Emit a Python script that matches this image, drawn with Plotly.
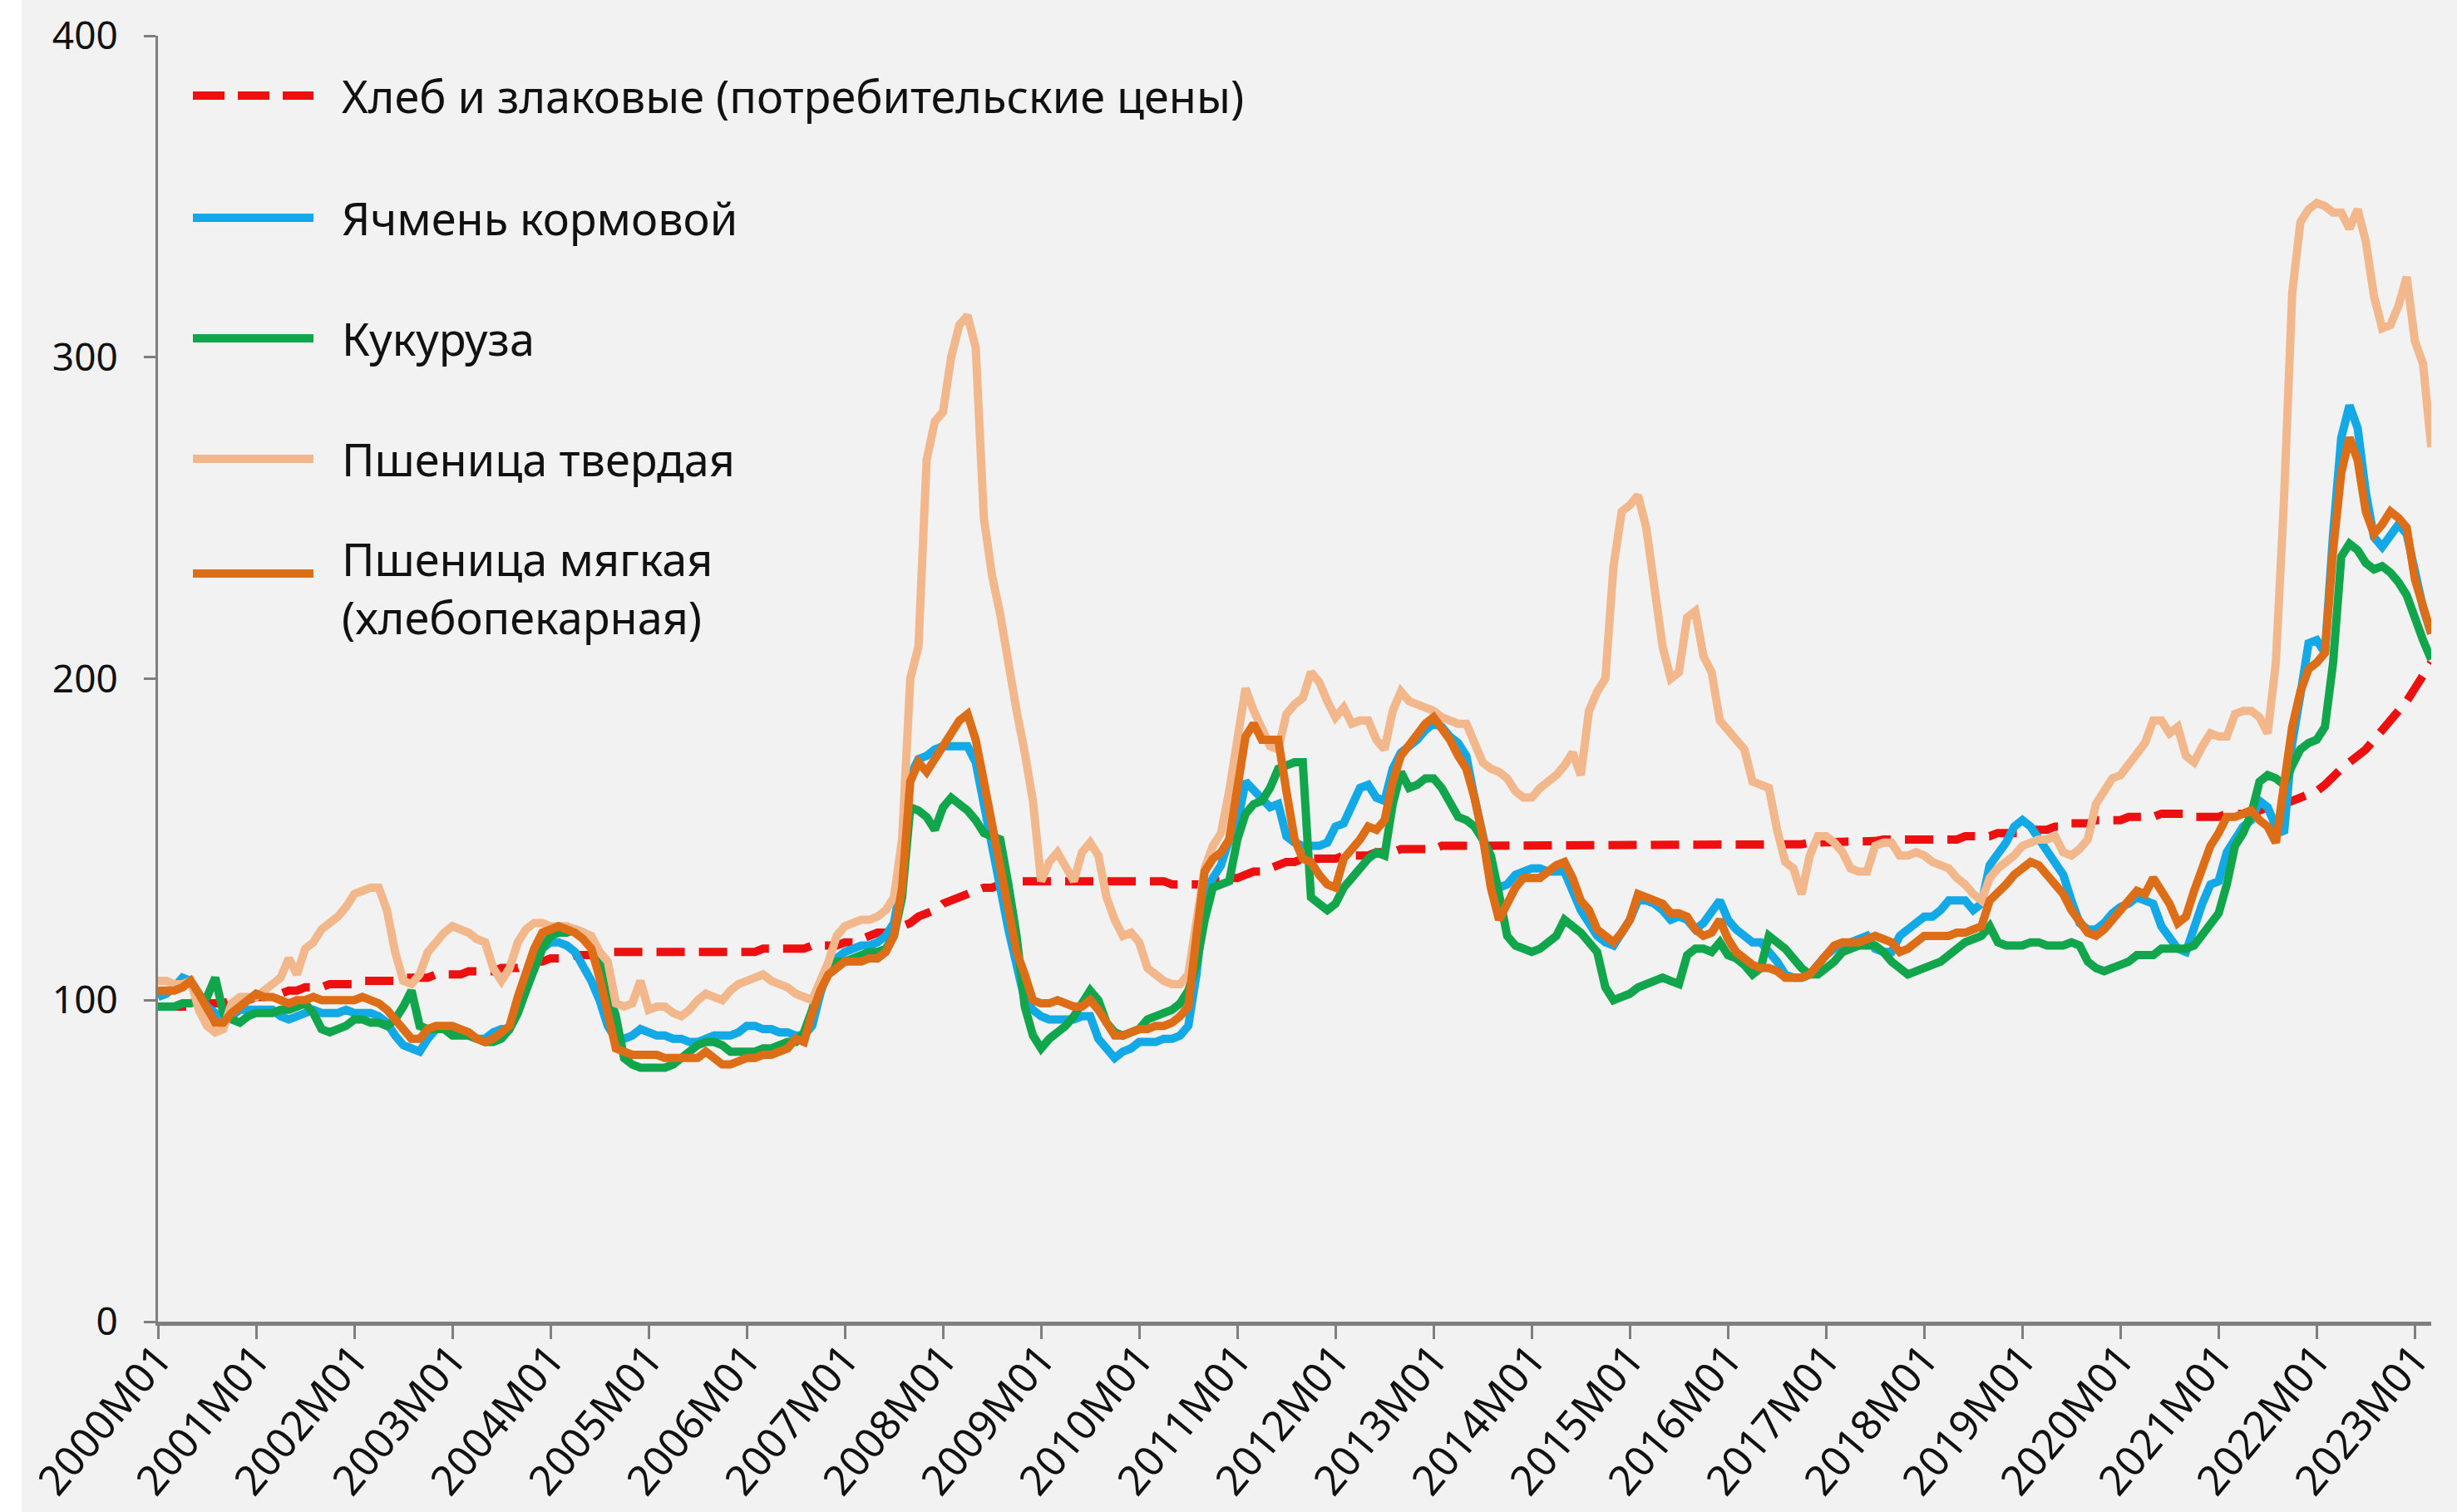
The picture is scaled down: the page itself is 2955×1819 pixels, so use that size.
import plotly.graph_objects as go

# ---------------- data ----------------
years = list(range(2000, 2024))
months = [f"{y}M{m:02d}" for y in range(2000, 2023) for m in range(1, 13)] + ["2023M01", "2023M02", "2023M03"]
tick_labels = [f"{y}M01" for y in years]

bread_cpi = [
    98, 98, 98, 98, 98, 98, 99, 99, 99, 100, 100, 100,
    101, 101, 102, 102, 103, 103, 104, 104, 104, 105, 105, 105,
    105, 106, 106, 106, 106, 106, 107, 107, 107, 107, 108, 108,
    108, 108, 109, 109, 109, 109, 110, 110, 110, 111, 112, 112,
    113, 113, 113, 114, 114, 114, 114, 115, 115, 115, 115, 115,
    115, 115, 115, 115, 115, 115, 115, 115, 115, 115, 115, 115,
    115, 115, 116, 116, 116, 116, 116, 116, 117, 117, 117, 117,
    118, 118, 119, 120, 121, 121, 122, 123, 124, 126, 127, 128,
    130, 131, 132, 133, 134, 135, 135, 136, 136, 137, 137, 137,
    137, 137, 137, 137, 137, 137, 137, 137, 137, 137, 137, 137,
    137, 137, 137, 137, 136, 136, 136, 136, 136, 137, 137, 138,
    138, 139, 140, 140, 141, 142, 143, 143, 144, 144, 144, 144,
    144, 145, 145, 145, 145, 146, 146, 146, 147, 147, 147, 147,
    147, 148, 148, 148, 148, 148, 148, 148, 148, 148, 148, 148,
    148, 148, 148, 148, 148, 148, 148, 148, 148, 148, 148, 148,
    148, 148, 148, 148, 148, 148, 148, 148, 148, 148, 148, 148,
    148, 148, 148, 148, 148, 148, 148.5, 148.5, 148.5, 148.5, 149, 149,
    149, 149, 149, 149, 149, 149.5, 149.5, 150, 150, 150, 150, 150,
    150, 150, 150, 150, 150, 151, 151, 151, 151, 152, 152, 152,
    152, 153, 153, 153, 154, 154, 155, 155, 155, 156, 156, 156,
    156, 157, 157, 157, 157, 158, 158, 158, 158, 157, 157, 157,
    157, 158, 158, 158, 159, 159, 160, 160, 161, 162, 163, 164,
    165, 167, 170, 172, 174, 176, 178, 181, 184, 187, 190, 193,
    197, 201, 205,
]

barley = [
    101, 102, 104, 107, 106, 102, 98, 96, 93, 95, 97, 97,
    97, 97, 97, 95, 94, 95, 96, 97, 96, 96, 96, 97,
    96, 96, 96, 95, 93, 89, 86, 85, 84, 88, 91, 91,
    91, 90, 89, 88, 88, 90, 91, 91, 96, 104, 110, 116,
    118, 118, 117, 115, 111, 106, 100, 92, 88, 88, 89, 91,
    90, 89, 89, 88, 88, 87, 87, 88, 89, 89, 89, 90,
    92, 92, 91, 91, 90, 90, 89, 89, 92, 102, 110, 113,
    115, 116, 117, 117, 118, 120, 124, 138, 170, 175, 176, 178,
    179, 179, 179, 179, 174, 160, 146, 135, 122, 110, 100, 97,
    95, 94, 94, 94, 94, 95, 95, 88, 85, 82, 84, 85,
    87, 87, 87, 88, 88, 89, 92, 108, 132, 138, 142, 150,
    155, 168, 165, 162, 160, 161, 151, 149, 148, 148, 148, 149,
    154, 155, 160, 166, 167, 163, 162, 172, 177, 179, 181, 184,
    186, 185, 182, 180, 176, 163, 150, 140, 135, 136, 139, 140,
    141, 141, 140, 140, 140, 134, 128, 124, 120, 118, 117, 121,
    125, 131, 131, 130, 128, 125, 126, 125, 122, 124, 127, 131,
    125, 122, 120, 118, 118, 115, 112, 108, 107, 107, 108, 111,
    114, 116, 117, 118, 119, 120, 116, 115, 115, 120, 122, 124,
    126, 126, 128, 131, 131, 131, 128, 130, 142, 145, 149, 154,
    156, 154, 150, 146, 143, 139, 131, 124, 122, 122, 124, 127,
    129, 130, 132, 131, 130, 123, 119, 116, 115, 123, 130, 136,
    137, 146, 150, 154, 156, 162, 160, 154, 152, 180, 195, 211,
    212, 208, 245, 275, 285, 278, 258, 244, 241, 245, 248, 245,
    232, 222, 214,
]

corn = [
    98, 98, 98, 99, 99, 100, 101, 107, 96, 94, 93, 95,
    96, 96, 96, 97, 97, 98, 99, 96, 91, 90, 91, 92,
    94, 94, 93, 93, 92, 94, 98, 103, 92, 91, 91, 91,
    89, 89, 89, 88, 87, 87, 88, 91, 96, 103, 110, 116,
    120, 121, 121, 122, 121, 118, 112, 104, 95, 82, 80, 79,
    79, 79, 79, 80, 82, 84, 86, 87, 87, 86, 84, 84,
    84, 84, 85, 85, 86, 87, 87, 90, 97, 105, 110, 112,
    112, 113, 114, 115, 115, 116, 120, 132, 160, 159, 157, 153,
    160, 163, 161, 159, 156, 152, 151, 150, 136, 120, 98, 89,
    85, 88, 90, 92, 95, 99, 103, 100, 93, 90, 89, 90,
    91, 94, 95, 96, 97, 99, 103, 111, 125, 135, 136, 137,
    150, 158, 161, 162, 166, 172, 173, 174, 174, 132, 130, 128,
    130, 135, 138, 141, 144, 146, 145, 161, 171, 166, 167, 169,
    169, 166, 161, 157, 156, 154, 150, 145, 133, 120, 117, 116,
    115, 116, 118, 120, 125, 123, 121, 118, 115, 104, 100, 101,
    102, 104, 105, 106, 107, 106, 105, 114, 116, 116, 115, 118,
    114, 113, 111, 108, 110, 120, 118, 116, 113, 110, 108, 108,
    110, 112, 115, 116, 117, 117, 117, 115, 112, 110, 108, 109,
    110, 111, 112, 114, 116, 118, 119, 120, 123, 118, 117, 117,
    117, 118, 118, 117, 117, 117, 118, 117, 112, 110, 109, 110,
    111, 112, 114, 114, 114, 116, 116, 116, 116, 117, 120, 124,
    127, 136, 148, 152, 158, 168, 170, 169, 167, 173, 178, 180,
    181, 185, 205, 238, 242, 240, 236, 234, 235, 233, 230, 226,
    218, 212, 206,
]

durum_wheat = [
    106, 106, 105, 105, 106, 97, 92, 90, 91, 99, 101, 101,
    101, 103, 105, 107, 113, 108, 116, 118, 122, 124, 126, 129,
    133, 134, 135, 135, 128, 115, 106, 105, 108, 115, 118, 121,
    123, 122, 121, 119, 118, 110, 106, 110, 118, 122, 124, 124,
    123, 123, 123, 122, 121, 120, 115, 112, 99, 98, 99, 106,
    97, 98, 98, 96, 95, 97, 100, 102, 101, 100, 103, 105,
    106, 107, 108, 106, 105, 104, 102, 101, 100, 106, 112, 120,
    123, 124, 125, 125, 126, 128, 132, 150, 200, 210, 268, 280,
    283, 300, 310, 313, 303, 250, 232, 220, 204, 190, 177, 162,
    137, 143, 146, 142, 137, 146, 149, 145, 132, 125, 120, 121,
    118, 110, 108, 106, 105, 105, 108, 123, 141, 148, 152, 165,
    180, 197, 190, 184, 179, 178, 189, 192, 194, 202, 199, 193,
    188, 191, 186, 187, 187, 181, 178, 190, 196, 193, 192, 191,
    190, 188, 187, 186, 186, 180, 174, 172, 171, 169, 165, 163,
    163, 166, 168, 170, 173, 177, 170, 190, 196, 200, 235, 252,
    254, 257, 247, 230, 210, 200, 202, 219, 221, 207, 202, 187,
    184, 182, 178, 168, 167, 166, 153, 143, 141, 133, 145, 151,
    151, 149, 146, 141, 140, 140, 148, 149, 149, 145, 145, 146,
    145, 143, 142, 141, 138, 136, 133, 131, 138, 141, 143, 145,
    148, 149, 150, 150, 151, 146, 145, 147, 150, 161, 165, 169,
    170, 173, 176, 180, 187, 187, 183, 185, 176, 174, 179, 183,
    182, 182, 189, 190, 190, 188, 183, 205, 256, 320, 342, 346,
    348, 347, 345, 345, 340, 346, 336, 319, 309, 310, 316, 325,
    305, 298, 272,
]

soft_wheat = [
    103, 103, 103, 104, 106, 102, 97, 93, 93, 96, 98, 100,
    102, 101, 101, 100, 99, 100, 100, 101, 100, 100, 100, 100,
    100, 101, 100, 99, 97, 94, 91, 88, 88, 91, 92, 92,
    92, 91, 90, 88, 87, 88, 90, 92, 101, 108, 116, 121,
    122, 123, 122, 121, 119, 116, 107, 97, 85, 84, 83, 83,
    83, 83, 82, 82, 82, 82, 82, 84, 82, 80, 80, 81,
    82, 82, 83, 83, 84, 85, 88, 87, 96, 103, 108, 110,
    112, 112, 112, 113, 113, 115, 120, 135, 168, 174, 171, 175,
    179, 182, 187, 189, 181, 168, 155, 143, 128, 115, 108, 100,
    99, 99, 100, 99, 98, 98, 100, 97, 93, 89, 89, 90,
    91, 91, 92, 92, 93, 95, 98, 120, 140, 144, 146, 150,
    168, 182, 186, 181, 181, 181, 165, 150, 144, 143, 139, 136,
    135, 144, 147, 150, 154, 153, 156, 168, 176, 179, 183, 186,
    188, 185, 181, 176, 172, 163, 151, 135, 125, 130, 135, 138,
    138, 138, 140, 142, 143, 138, 131, 128, 122, 120, 118, 121,
    125, 133, 132, 131, 130, 127, 127, 126, 122, 120, 121, 125,
    119, 115, 113, 111, 110, 110, 109, 107, 107, 107, 108, 111,
    114, 117, 118, 118, 118, 119, 120, 119, 118, 115, 116, 118,
    120, 120, 120, 120, 121, 121, 122, 123, 131, 134, 136, 139,
    141, 143, 142, 139, 136, 133, 128, 124, 121, 120, 122, 125,
    128, 131, 134, 133, 138, 134, 130, 124, 126, 134, 141, 148,
    152, 157, 157, 158, 159, 156, 154, 149, 165, 185, 196, 203,
    205, 208, 240, 264, 275, 268, 252, 245, 248, 252, 250, 247,
    231, 222, 214,
]

series_names = [
    "Хлеб и злаковые (потребительские цены)",
    "Ячмень кормовой",
    "Кукуруза",
    "Пшеница твердая",
    "Пшеница мягкая<br>(хлебопекарная)",
]
series_values = [bread_cpi, barley, corn, durum_wheat, soft_wheat]
series_colors = ["#EE1010", "#13A9E6", "#12A64C", "#F2B88C", "#DD6D17"]
series_dash = ["34px,17px", "solid", "solid", "solid", "solid"]
y_ticks = [0, 100, 200, 300, 400]

# ---------------- layout geometry (pixels) ----------------
W, H = 2955, 1819
L, R, T, B = 190, 31, 43, 229
PW = W - L - R
PH = H - T - B


def px_x(px):
    return (px - L) / PW


def px_y(py):
    return (H - B - py) / PH


tick_font = dict(family="Noto Sans, Open Sans, sans-serif", size=46, color="#111111")
xtick_font = dict(family="Noto Sans, Open Sans, sans-serif", size=50, color="#111111")
legend_font = dict(family="Noto Sans, Open Sans, sans-serif", size=54, color="#111111")

fig = go.Figure()
for name, vals, col, dash in zip(series_names, series_values, series_colors, series_dash):
    fig.add_trace(go.Scatter(
        x=months, y=vals, mode="lines", name=name.replace("<br>", " "),
        line=dict(color=col, width=10, dash=dash),
        showlegend=False,
    ))

# manual legend (long line samples like the original)
legend_sample_y = [115, 262, 407, 552, 690]
legend_text_y = [115, 262, 407, 552, 707]
shapes = [
    dict(type="rect", xref="paper", yref="paper", x0=px_x(0), x1=px_x(26), y0=px_y(H), y1=px_y(0),
         fillcolor="white", line=dict(width=0), layer="below"),
]
annotations = []
for name, col, dash, sy, ty in zip(series_names, series_colors, series_dash,
                                   legend_sample_y, legend_text_y):
    shapes.append(dict(
        type="line", xref="paper", yref="paper",
        x0=px_x(232), x1=px_x(377), y0=px_y(sy), y1=px_y(sy),
        line=dict(color=col, width=10, dash=("38px,16px" if dash != "solid" else "solid")),
    ))
    annotations.append(dict(
        xref="paper", yref="paper", x=px_x(409), y=px_y(ty),
        text=name, showarrow=False, xanchor="left", yanchor="middle", align="left",
        font=legend_font,
    ))

fig.update_layout(
    width=W, height=H,
    margin=dict(l=L, r=R, t=T, b=B, pad=0, autoexpand=False),
    paper_bgcolor="#F2F2F2", plot_bgcolor="#F2F2F2",
    shapes=shapes, annotations=annotations,
    showlegend=False,
    xaxis=dict(
        type="category", range=[0, len(months) - 1], automargin=False,
        tickmode="array", tickvals=tick_labels, ticktext=tick_labels,
        tickangle=-50, tickfont=xtick_font, ticklabelstandoff=-26,
        showline=True, linecolor="#7F7F7F", linewidth=5,
        ticks="outside", ticklen=16, tickwidth=3, tickcolor="#7F7F7F",
        showgrid=False, zeroline=False,
    ),
    yaxis=dict(
        range=[0, 400], tickmode="array", tickvals=y_ticks, automargin=False,
        tickfont=tick_font, showline=True, linecolor="#7F7F7F", linewidth=3,
        ticks="outside", ticklen=14, tickwidth=3, tickcolor="#7F7F7F",
        ticklabelstandoff=22,
        showgrid=False, zeroline=False,
    ),
)

fig.write_html(
    "out.html",
    config={"displayModeBar": False},
    post_script="document.body.style.margin='0';document.body.style.overflow='hidden';",
)
